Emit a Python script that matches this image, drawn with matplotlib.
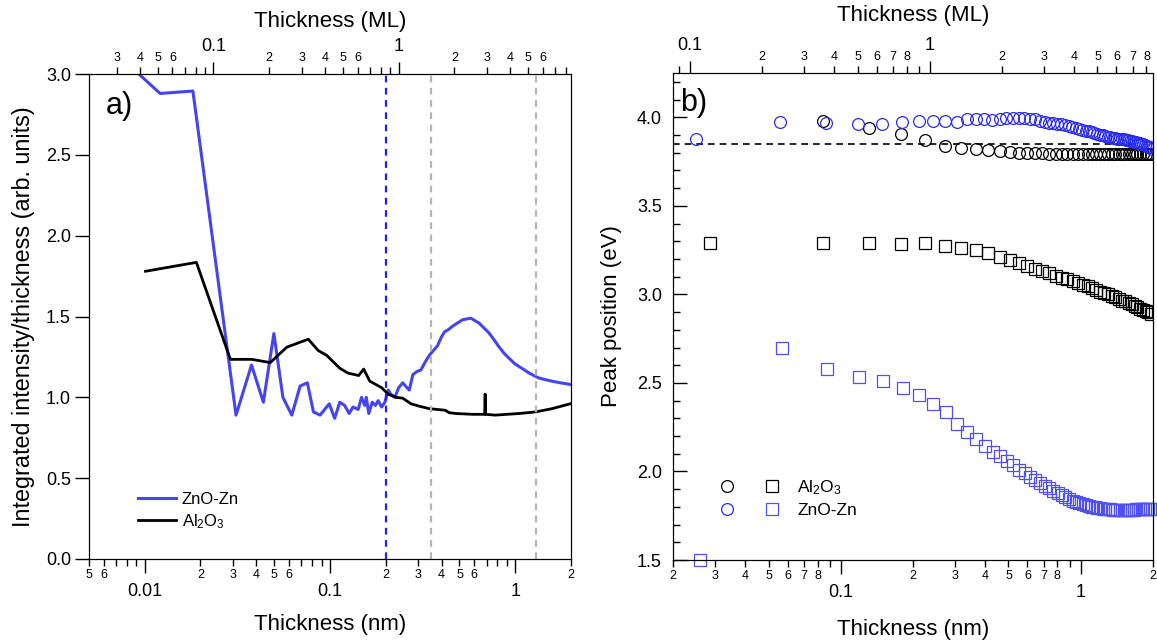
import numpy as np
import matplotlib
matplotlib.use('Agg')
import matplotlib.pyplot as plt
from matplotlib.ticker import LogLocator, FuncFormatter, MultipleLocator
from matplotlib.lines import Line2D
from matplotlib.legend_handler import HandlerTuple

plt.rcParams['font.family'] = ['Liberation Sans', 'DejaVu Sans']
plt.rcParams['mathtext.fontset'] = 'custom'
plt.rcParams['mathtext.rm'] = 'Liberation Sans'
plt.rcParams['mathtext.it'] = 'Liberation Sans:italic'

NM_PER_ML = 0.235
BLUE_LINE = '#4545f0'
BLUE_CIRC = '#2a2aee'
BLUE_SQ = '#5050f0'

# ---- panel a: integrated intensity / thickness ----
zno_x = [0.0093, 0.0121, 0.0182, 0.0311, 0.0377, 0.0437, 0.0498, 0.0557, 0.0622, 0.0690,
         0.0755, 0.0814, 0.0884, 0.0991, 0.106, 0.113, 0.120, 0.127, 0.133, 0.142,
         0.148, 0.154, 0.157, 0.162, 0.169, 0.176, 0.182, 0.190, 0.198, 0.206,
         0.213, 0.224, 0.235, 0.247, 0.258, 0.268, 0.280, 0.295, 0.310, 0.327,
         0.344, 0.362, 0.381, 0.398, 0.415, 0.437, 0.459, 0.488, 0.520, 0.548,
         0.576, 0.605, 0.637, 0.677, 0.72, 0.77, 0.82, 0.875, 0.93, 0.99,
         1.05, 1.12, 1.19, 1.26, 1.34, 1.45, 1.58, 1.75, 1.98]
zno_y = [3.00, 2.88, 2.895, 0.89, 1.20, 0.97, 1.395, 1.00, 0.89, 1.07,
         1.09, 0.91, 0.89, 0.96, 0.87, 0.97, 0.95, 0.90, 0.94, 0.925,
         1.00, 0.95, 1.00, 0.90, 0.97, 0.95, 0.98, 0.94, 0.97, 1.045,
         1.02, 1.00, 1.06, 1.09, 1.065, 1.045, 1.14, 1.16, 1.17, 1.22,
         1.26, 1.29, 1.32, 1.37, 1.405, 1.42, 1.44, 1.46, 1.48, 1.485,
         1.49, 1.475, 1.46, 1.43, 1.40, 1.355, 1.31, 1.27, 1.24, 1.21,
         1.19, 1.17, 1.15, 1.135, 1.12, 1.11, 1.10, 1.09, 1.08]

al_x = [0.0101, 0.019, 0.029, 0.0379, 0.0476, 0.0584, 0.0764, 0.0863, 0.0959, 0.113,
        0.125, 0.143, 0.152, 0.164, 0.190, 0.206, 0.227, 0.247, 0.274, 0.304,
        0.344, 0.38, 0.42, 0.44, 0.48, 0.59, 0.684, 0.688, 0.692, 0.78,
        0.9, 1.05, 1.29, 1.58, 1.98]
al_y = [1.78, 1.835, 1.235, 1.235, 1.215, 1.31, 1.36, 1.29, 1.26, 1.18,
        1.15, 1.135, 1.175, 1.10, 1.06, 1.02, 1.00, 0.995, 0.96, 0.945,
        0.93, 0.925, 0.92, 0.905, 0.90, 0.895, 0.895, 1.02, 0.895, 0.89,
        0.895, 0.90, 0.91, 0.93, 0.96]

vline_blue = 0.2
vlines_gray = [0.35, 1.3]

# ---- panel b: peak positions ----
al_grid = [0.084, 0.131, 0.178, 0.225, 0.272, 0.318, 0.365, 0.412, 0.459, 0.506,
           0.553, 0.600, 0.646, 0.693, 0.740, 0.787, 0.834, 0.881, 0.927, 0.974,
           1.021, 1.068, 1.115, 1.162, 1.208, 1.255, 1.302, 1.349, 1.396, 1.443,
           1.490, 1.536, 1.583, 1.630, 1.677, 1.724, 1.771, 1.818, 1.864, 1.911, 1.958]
al_hi = [3.98, 3.94, 3.905, 3.87, 3.84, 3.825, 3.82, 3.815, 3.81, 3.805,
         3.80, 3.80, 3.80, 3.80, 3.795, 3.795, 3.795, 3.795, 3.795, 3.795,
         3.79, 3.79, 3.79, 3.79, 3.79, 3.79, 3.79, 3.79, 3.79, 3.79,
         3.79, 3.79, 3.79, 3.79, 3.79, 3.79, 3.79, 3.79, 3.79, 3.79, 3.79]
al_lo_x = [0.0286] + al_grid
al_lo = [3.29, 3.29, 3.29, 3.285, 3.29, 3.275, 3.26, 3.25, 3.235, 3.21,
         3.195, 3.175, 3.16, 3.145, 3.13, 3.12, 3.105, 3.095, 3.085, 3.075,
         3.065, 3.055, 3.045, 3.035, 3.025, 3.015, 3.01, 3.0, 2.99, 2.985,
         2.975, 2.965, 2.96, 2.95, 2.945, 2.935, 2.93, 2.92, 2.91, 2.905, 2.90, 2.89]

zn_hi_x = [0.025, 0.056, 0.087, 0.118, 0.149, 0.180, 0.211, 0.242, 0.273, 0.304,
           0.335, 0.366, 0.397, 0.428, 0.459, 0.490, 0.521, 0.552, 0.583, 0.614,
           0.645, 0.676, 0.707, 0.738, 0.769, 0.800, 0.831, 0.862, 0.893, 0.924,
           0.955, 0.986, 1.017, 1.048, 1.079, 1.110, 1.141, 1.172, 1.203, 1.234,
           1.265, 1.296, 1.327, 1.358, 1.389, 1.420, 1.451, 1.482, 1.513, 1.544,
           1.575, 1.606, 1.637, 1.668, 1.699, 1.730, 1.761, 1.792, 1.823, 1.854,
           1.885, 1.916, 1.947, 1.978]
zn_hi = [3.88, 3.975, 3.97, 3.96, 3.96, 3.975, 3.98, 3.98, 3.98, 3.975,
         3.99, 3.99, 3.99, 3.985, 3.99, 3.995, 3.995, 3.995, 3.995, 3.99,
         3.99, 3.98, 3.975, 3.97, 3.965, 3.96, 3.96, 3.955, 3.95, 3.945,
         3.94, 3.935, 3.93, 3.925, 3.92, 3.915, 3.91, 3.905, 3.90, 3.90,
         3.895, 3.89, 3.89, 3.885, 3.885, 3.88, 3.88, 3.875, 3.875, 3.87,
         3.87, 3.865, 3.865, 3.86, 3.86, 3.855, 3.855, 3.85, 3.85, 3.845,
         3.84, 3.835, 3.83, 3.82]
zn_lo_x = [0.026, 0.057, 0.088, 0.119, 0.150, 0.181, 0.212, 0.243, 0.274, 0.305,
           0.336, 0.367, 0.398, 0.429, 0.460, 0.491, 0.522, 0.553, 0.584, 0.615,
           0.646, 0.677, 0.708, 0.739, 0.770, 0.801, 0.832, 0.863, 0.894, 0.925,
           0.956, 0.987, 1.018, 1.049, 1.080, 1.111, 1.142, 1.173, 1.204, 1.235,
           1.266, 1.297, 1.328, 1.359, 1.390, 1.421, 1.452, 1.483, 1.514, 1.545,
           1.576, 1.607, 1.638, 1.669, 1.700, 1.731, 1.762, 1.793, 1.824, 1.855,
           1.886, 1.917, 1.948, 1.979]
zn_lo = [1.50, 2.695, 2.58, 2.535, 2.51, 2.47, 2.43, 2.38, 2.335, 2.27,
         2.225, 2.185, 2.145, 2.11, 2.085, 2.06, 2.035, 2.01, 1.99, 1.97,
         1.95, 1.935, 1.92, 1.905, 1.89, 1.88, 1.865, 1.855, 1.845, 1.835,
         1.83, 1.82, 1.815, 1.81, 1.805, 1.80, 1.80, 1.795, 1.795, 1.79,
         1.79, 1.79, 1.79, 1.785, 1.785, 1.785, 1.785, 1.785, 1.785, 1.785,
         1.785, 1.785, 1.785, 1.785, 1.79, 1.79, 1.79, 1.79, 1.79, 1.79,
         1.79, 1.79, 1.79, 1.79]
hline_b = 3.85


def minor_fmt(keep):
    def f(v, pos):
        e = np.floor(np.log10(v) + 1e-9)
        d = int(round(v / 10 ** e))
        return str(d) if d in keep else ''
    return FuncFormatter(f)


def log_ticks(axis, keep):
    axis.set_major_locator(LogLocator(base=10))
    axis.set_minor_locator(LogLocator(base=10, subs=np.arange(2, 10)))
    axis.set_major_formatter(FuncFormatter(lambda v, p: f'{v:g}'))
    axis.set_minor_formatter(minor_fmt(keep))


def style_bottom(ax, lpad):
    ax.tick_params(axis='x', which='major', direction='out', length=10, width=1, labelsize=13, pad=7)
    ax.tick_params(axis='x', which='minor', direction='out', length=5, width=1, labelsize=9, pad=2)
    ax.set_xlabel('Thickness (nm)', fontsize=16, labelpad=lpad)


def style_top(ax, lpad):
    ax.tick_params(axis='x', which='major', direction='out', length=9, width=1, labelsize=13, pad=5)
    ax.tick_params(axis='x', which='minor', direction='out', length=5, width=1, labelsize=9, pad=2)
    ax.set_xlabel('Thickness (ML)', fontsize=16, labelpad=lpad)


fig = plt.figure(figsize=(11.57, 6.44), dpi=100)
axa = fig.add_axes([0.0769, 0.132, 0.4166, 0.753])
axb = fig.add_axes([0.5817, 0.1304, 0.4148, 0.7562])

# panel a
axa.plot(zno_x, zno_y, color=BLUE_LINE, lw=2.2, label='ZnO-Zn')
axa.plot(al_x, al_y, color='black', lw=2.0, label=r'Al$_2$O$_3$')
axa.axvline(vline_blue, color='#2020ee', ls=(0, (3, 2.5)), lw=1.6)
for v in vlines_gray:
    axa.axvline(v, color='#b4b4b4', ls=(0, (3, 2.5)), lw=1.6)
axa.set_xscale('log')
axa.set_xlim(0.005, 2.0)
axa.set_ylim(0, 3.0)
axa.yaxis.set_major_locator(MultipleLocator(0.5))
axa.yaxis.set_major_formatter(FuncFormatter(lambda v, p: f'{v:.1f}'))
log_ticks(axa.xaxis, {2, 3, 4, 5, 6})
style_bottom(axa, 10.5)
axa.tick_params(axis='y', which='major', direction='out', length=10, width=1, labelsize=13, pad=3)
axa.set_ylabel('Integrated intensity/thickness (arb. units)', fontsize=16.8, labelpad=8)
axa.text(0.035, 0.935, 'a)', transform=axa.transAxes, fontsize=22, va='center')
axa.legend(loc='upper left', bbox_to_anchor=(0.077, 0.162), frameon=False, fontsize=12,
           handlelength=2.3, handletextpad=0.35, labelspacing=0.3, borderpad=0.2)

topa = axa.twiny()
topa.set_xscale('log')
topa.set_xlim(0.005 / NM_PER_ML, 2.0 / NM_PER_ML)
log_ticks(topa.xaxis, {2, 3, 4, 5, 6})
style_top(topa, 8)

# panel b
axb.axhline(hline_b, xmin=0, xmax=0.97, color='black', ls=(0, (4, 3)), lw=1.2)
ms = 8.5
axb.plot(al_grid, al_hi, 'o', mfc='none', mec='black', ms=ms, mew=0.9)
axb.plot(al_lo_x, al_lo, 's', mfc='none', mec='black', ms=ms, mew=0.9)
axb.plot(zn_hi_x, zn_hi, 'o', mfc='none', mec=BLUE_CIRC, ms=ms, mew=0.9)
axb.plot(zn_lo_x, zn_lo, 's', mfc='none', mec=BLUE_SQ, ms=ms, mew=0.9, clip_on=False)
axb.set_xscale('log')
axb.set_xlim(0.01999, 2.001)
axb.set_ylim(1.5, 4.25)
axb.yaxis.set_major_locator(MultipleLocator(0.5))
axb.yaxis.set_minor_locator(MultipleLocator(0.1))
axb.yaxis.set_major_formatter(FuncFormatter(lambda v, p: f'{v:.1f}'))
log_ticks(axb.xaxis, {2, 3, 4, 5, 6, 7, 8})
style_bottom(axb, 13)
axb.tick_params(axis='y', which='major', direction='in', length=10, width=1, labelsize=13, pad=8)
axb.tick_params(axis='y', which='minor', direction='in', length=5, width=1)
axb.set_ylabel('Peak position (eV)', fontsize=16, labelpad=11)
axb.text(0.015, 0.938, 'b)', transform=axb.transAxes, fontsize=22, va='center')

h_al = (Line2D([], [], ls='none', marker='o', mfc='none', mec='black', ms=ms, mew=0.9),
        Line2D([], [], ls='none', marker='s', mfc='none', mec='black', ms=ms, mew=0.9))
h_zn = (Line2D([], [], ls='none', marker='o', mfc='none', mec=BLUE_CIRC, ms=ms, mew=0.9),
        Line2D([], [], ls='none', marker='s', mfc='none', mec=BLUE_SQ, ms=ms, mew=0.9))
axb.legend([h_al, h_zn], [r'Al$_2$O$_3$', 'ZnO-Zn'], handler_map={tuple: HandlerTuple(ndivide=None, pad=1.2)},
           loc='upper left', bbox_to_anchor=(0.062, 0.193), frameon=False, fontsize=12.5,
           handlelength=4.0, handletextpad=0.75, labelspacing=0.35, borderpad=0.2)

topb = axb.twiny()
topb.set_xscale('log')
topb.set_xlim(0.01999 / NM_PER_ML, 2.001 / NM_PER_ML)
log_ticks(topb.xaxis, {2, 3, 4, 5, 6, 7, 8})
style_top(topb, 11)

fig.savefig('out.png', dpi=100)
